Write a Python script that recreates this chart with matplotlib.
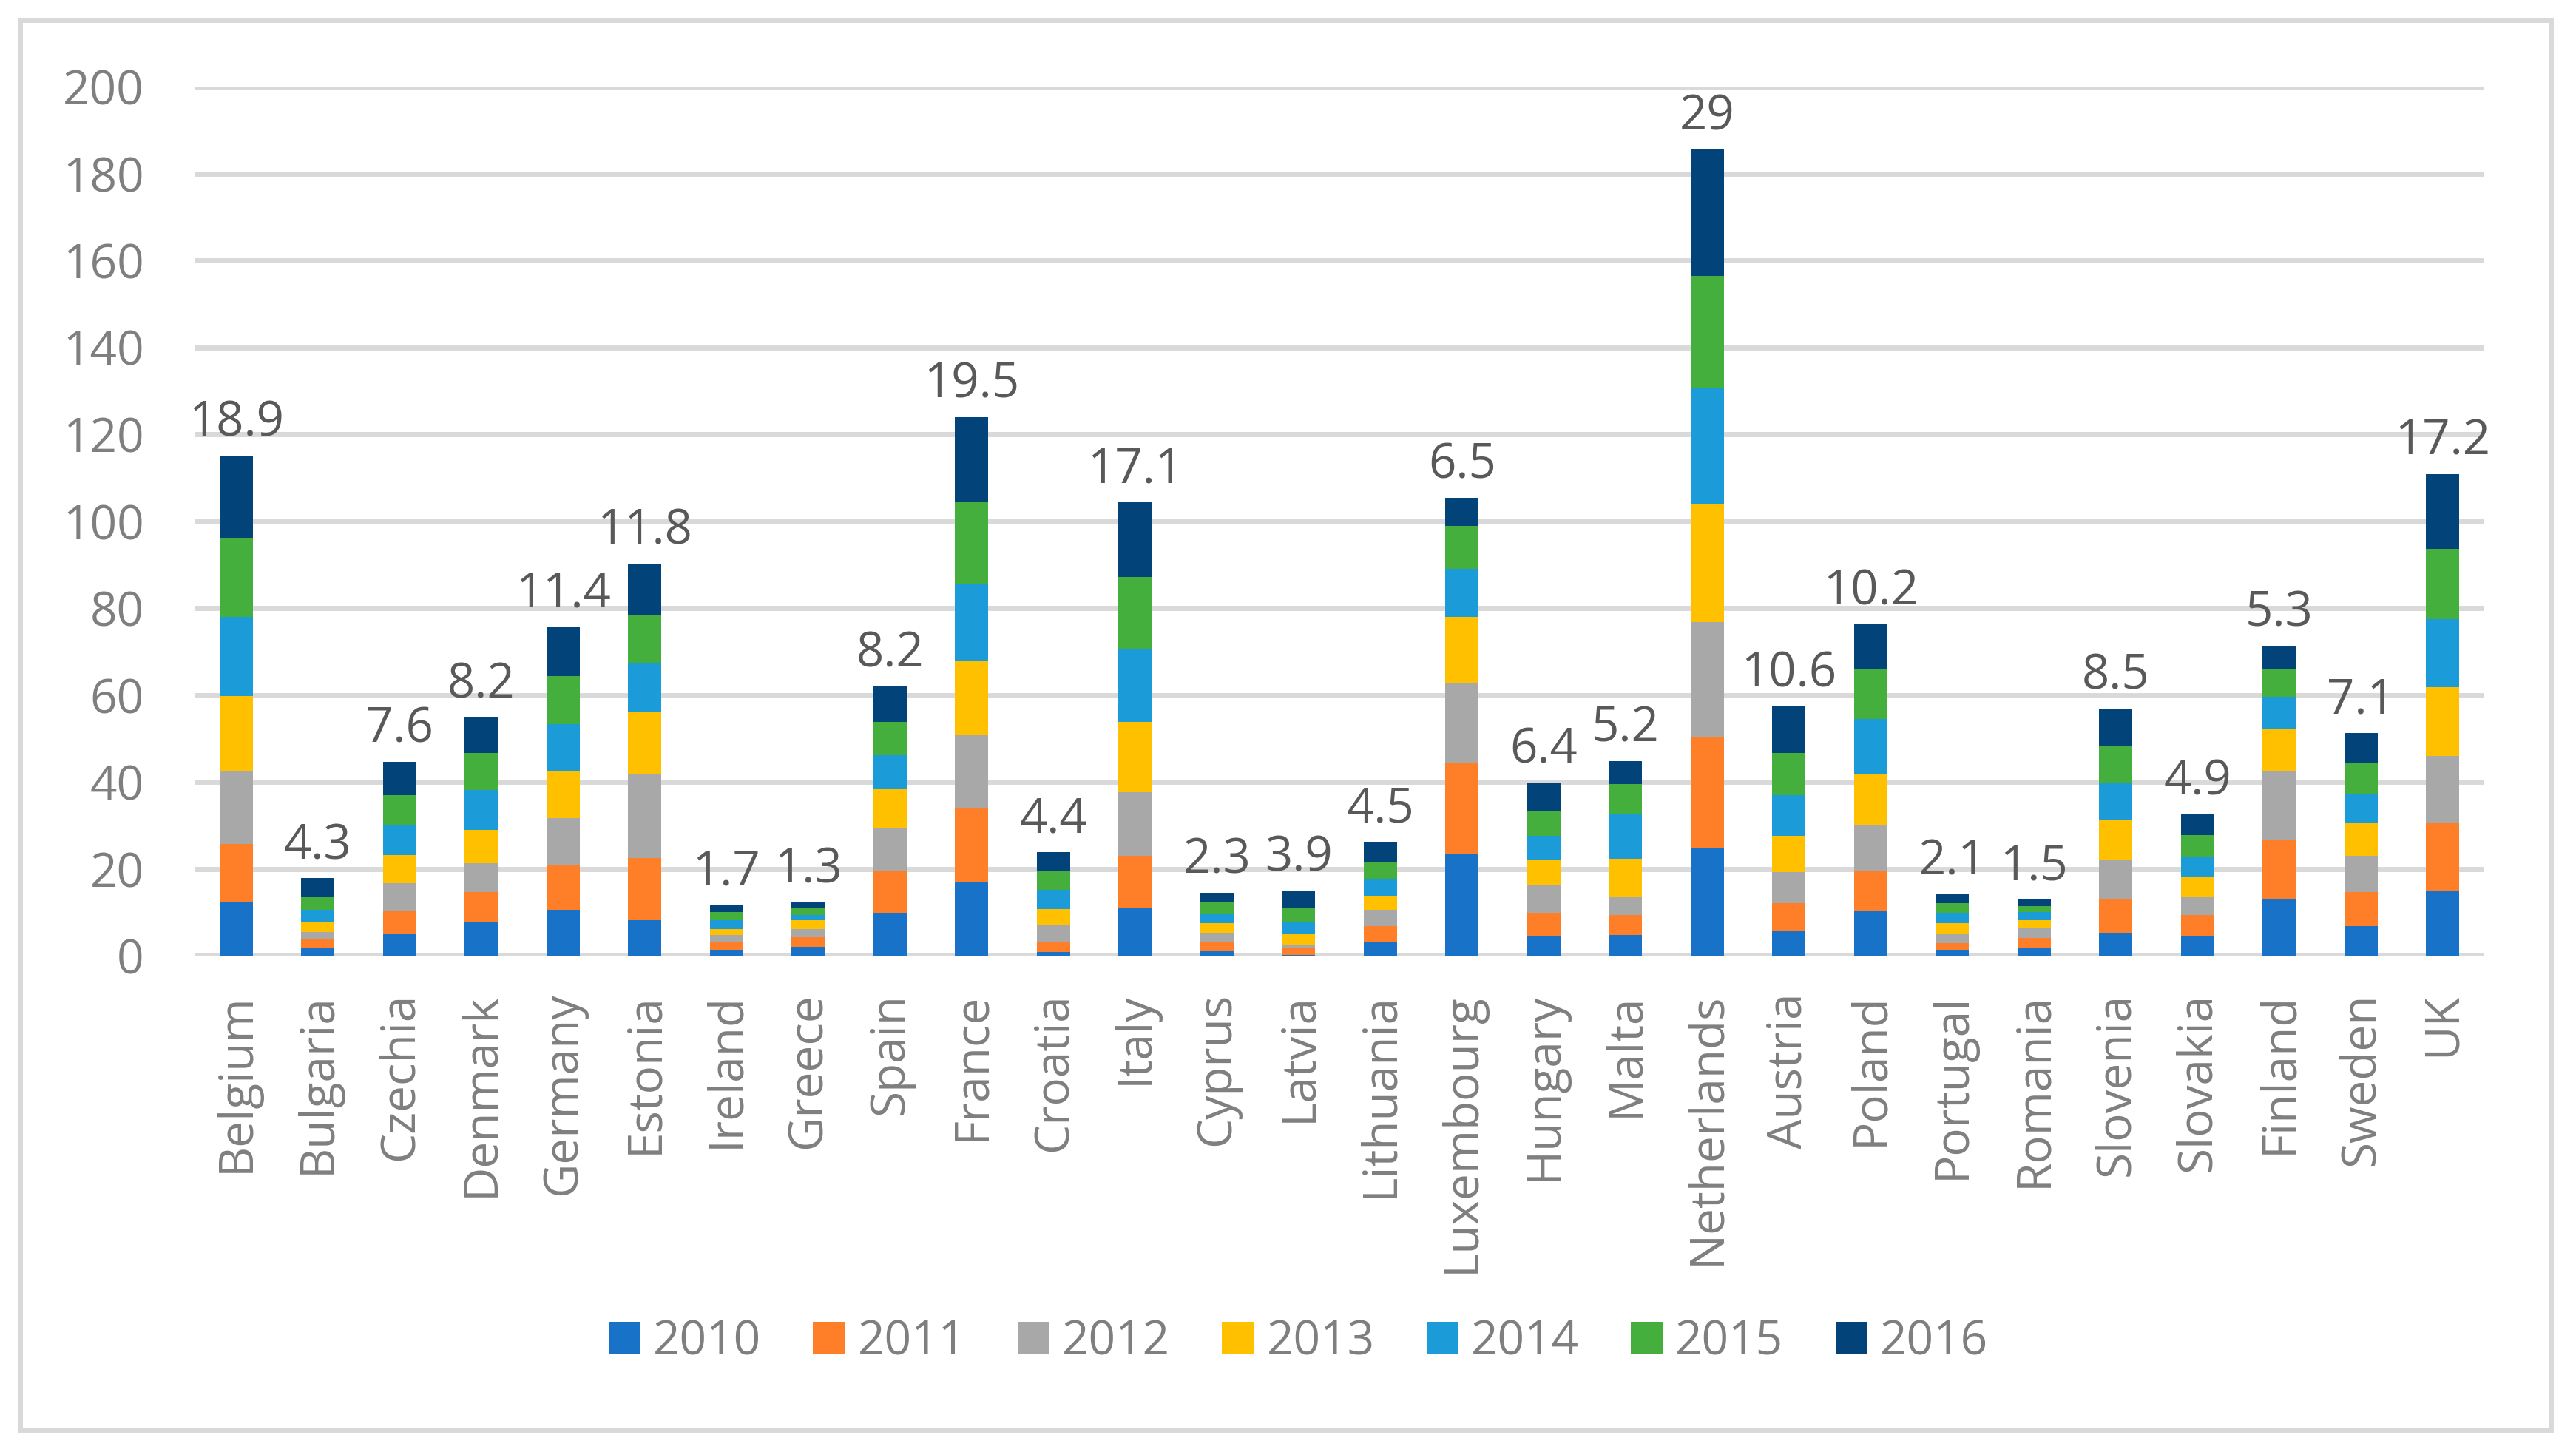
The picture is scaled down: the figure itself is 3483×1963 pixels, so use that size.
import matplotlib.pyplot as plt
import matplotlib.patches as patches
import numpy as np

countries = ['Belgium', 'Bulgaria', 'Czechia', 'Denmark', 'Germany', 'Estonia', 'Ireland',
             'Greece', 'Spain', 'France', 'Croatia', 'Italy', 'Cyprus', 'Latvia',
             'Lithuania', 'Luxembourg', 'Hungary', 'Malta', 'Netherlands', 'Austria',
             'Poland', 'Portugal', 'Romania', 'Slovenia', 'Slovakia', 'Finland',
             'Sweden', 'UK']

years = ['2010', '2011', '2012', '2013', '2014', '2015', '2016']

v2010 = [12.2, 1.7, 4.9, 7.7, 10.6, 8.1, 1.2, 2.0, 9.9, 16.8, 0.9, 10.9, 1.1, 0.2,
         3.2, 23.4, 4.5, 4.8, 24.8, 5.7, 10.2, 1.3, 1.9, 5.3, 4.6, 12.9, 6.8, 14.9]
v2011 = [13.5, 2.0, 5.3, 6.9, 10.3, 14.4, 1.8, 2.2, 9.7, 17.0, 2.4, 12.0, 2.1, 1.5,
         3.6, 20.8, 5.4, 4.6, 25.4, 6.4, 9.2, 1.6, 2.2, 7.6, 4.7, 13.9, 7.8, 15.6]
v2012 = [16.9, 1.8, 6.4, 6.6, 10.7, 19.3, 1.7, 2.0, 9.8, 16.9, 3.6, 14.7, 1.9, 0.7,
         3.8, 18.5, 6.2, 4.0, 26.5, 7.2, 10.5, 2.0, 2.2, 9.3, 4.2, 15.5, 8.4, 15.5]
v2013 = [17.1, 2.3, 6.6, 7.7, 11.0, 14.4, 1.5, 1.9, 9.0, 17.3, 3.8, 16.2, 2.4, 2.5,
         3.2, 15.2, 6.1, 8.9, 27.3, 8.3, 11.9, 2.6, 1.9, 9.2, 4.6, 9.9, 7.4, 15.8]
v2014 = [18.2, 2.8, 6.9, 9.3, 10.7, 11.0, 1.9, 1.3, 7.7, 17.7, 4.5, 16.7, 2.2, 3.0,
         3.8, 11.1, 5.4, 10.2, 26.5, 9.3, 12.6, 2.4, 1.9, 8.5, 4.7, 7.4, 6.8, 15.6]
v2015 = [18.3, 2.9, 6.9, 8.4, 11.1, 11.2, 1.9, 1.5, 7.7, 18.7, 4.3, 16.7, 2.5, 3.2,
         4.1, 9.9, 5.8, 7.0, 26.0, 9.8, 11.6, 2.2, 1.3, 8.5, 4.9, 6.4, 7.0, 16.2]
v2016 = [18.9, 4.3, 7.6, 8.2, 11.4, 11.8, 1.7, 1.3, 8.2, 19.5, 4.4, 17.1, 2.3, 3.9,
         4.5, 6.5, 6.4, 5.2, 29.0, 10.6, 10.2, 2.1, 1.5, 8.5, 4.9, 5.3, 7.1, 17.2]

series = [v2010, v2011, v2012, v2013, v2014, v2015, v2016]
colors = ['#1872C8', '#FE7F27', '#A8A8A8', '#FFC000', '#1B9BD7', '#44AF3C', '#02437A']

font = 'Open Sans'
W, H = 3483, 1963
fig = plt.figure(figsize=(W / 100, H / 100), dpi=100)
ax = fig.add_axes([264 / W, 1 - 1292 / H, (3358 - 264) / W, (1292 - 117) / H])

x = np.arange(len(countries))
bottom = np.zeros(len(countries))
for yr, vals, c in zip(years, series, colors):
    ax.bar(x, vals, 0.41, bottom=bottom, color=c, label=yr, zorder=3)
    bottom += np.array(vals)

# labels show the 2016 value on top of each stack
for xi, tot, lab in zip(x, bottom, v2016):
    ax.annotate(f'{lab:g}', (xi, tot), textcoords='offset points', xytext=(0, 19),
                ha='center', va='baseline', fontsize=47, color='#595959', family=font)

ax.set_xlim(-0.5, len(countries) - 0.5)
ax.set_ylim(0, 200)
ax.set_yticks(np.arange(0, 201, 20))
ax.yaxis.grid(True, color='#D9D9D9', linewidth=5, zorder=0)
ax.set_axisbelow(True)
for s in ax.spines.values():
    s.set_visible(False)

ax.set_xticks(x)
ax.set_xticklabels(countries, rotation=90, fontsize=46, color='#7F7F7F', family=font)
ax.tick_params(axis='x', length=0, pad=36)
ax.tick_params(axis='y', length=0, pad=50, labelsize=46, labelcolor='#7F7F7F')
for t in ax.get_yticklabels():
    t.set_family(font)

fig.legend(loc='center', bbox_to_anchor=(0.504, 1 - 1814 / H), ncol=7, frameon=False,
           prop={'family': font, 'size': 46}, labelcolor='#7F7F7F',
           handlelength=0.67, handleheight=0.67, handletextpad=0.27, columnspacing=1.1)

fig.patches.append(patches.Rectangle((27 / W, 1 - 1933 / H), (3449 - 27) / W, (1933 - 27) / H,
                                     transform=fig.transFigure, fill=False,
                                     edgecolor='#D9D9D9', linewidth=5))

fig.savefig('out.png', dpi=100, facecolor='white')
